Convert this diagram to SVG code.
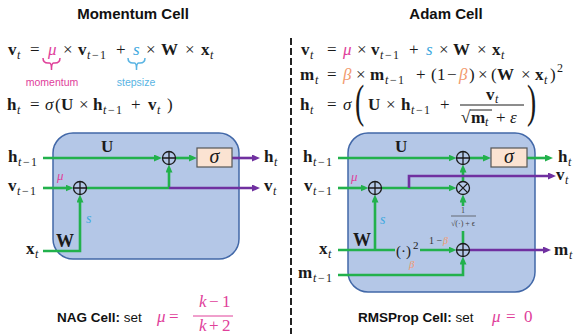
<svg xmlns="http://www.w3.org/2000/svg" width="586" height="334" viewBox="0 0 586 334">
<style>
.m{font-family:"Liberation Serif","DejaVu Serif",serif;font-size:17px;fill:#1a1a1a}
.b{font-weight:bold}
.i{font-style:italic}
.sb{font-size:12px;font-style:italic}
.sr{font-size:12px}
.pk{fill:#e0409a}
.bl{fill:#3fa9e0}
.or{fill:#f29a6e}
.ttl{font-family:"Liberation Sans",Arial,sans-serif;font-weight:bold;font-size:15px;fill:#111;text-anchor:middle}
.cap{font-family:"Liberation Sans",Arial,sans-serif;font-size:13.5px;fill:#111}
.note{font-family:"Liberation Sans",Arial,sans-serif;font-size:10.5px;text-anchor:middle}
.cell{fill:#b4c7e7;stroke:#4268a8;stroke-width:1.5}
.sig{fill:#fbe3d2;stroke:#555;stroke-width:1.2}
.op{fill:none;stroke:#1a1a1a;stroke-width:1.3}
.g{fill:none;stroke:#22b14c;stroke-width:2.6}
.p{fill:none;stroke:#7030a0;stroke-width:2.6}
.ga{marker-end:url(#ag)}
.pa{marker-end:url(#ap)}
.sm{font-family:"Liberation Serif","DejaVu Serif",serif;font-size:8px;fill:#444;text-anchor:middle}
</style>
<defs>
<marker id="ag" viewBox="0 0 8 7" refX="4" refY="3.5" markerWidth="8" markerHeight="7" markerUnits="userSpaceOnUse" orient="auto"><path d="M0,0 L8,3.5 L0,7 z" fill="#22b14c"/></marker>
<marker id="ap" viewBox="0 0 8 7" refX="4" refY="3.5" markerWidth="8" markerHeight="7" markerUnits="userSpaceOnUse" orient="auto"><path d="M0,0 L8,3.5 L0,7 z" fill="#7030a0"/></marker>
</defs>
<rect width="586" height="334" fill="#fff"/>

<!-- titles -->
<text class="ttl" x="133" y="19">Momentum Cell</text>
<text class="ttl" x="446" y="19">Adam Cell</text>

<!-- divider -->
<line x1="291" y1="38" x2="291" y2="334" stroke="#222" stroke-width="2" stroke-dasharray="7 3"/>

<!-- left equations -->
<g id="eq-momentum">
<text class="m"><tspan x="8" y="55" class="b">v</tspan><tspan x="17" y="59" class="sb">t</tspan><tspan x="30" y="55">=</tspan><tspan x="48" y="55" class="i pk">μ</tspan><tspan x="63" y="55">×</tspan><tspan x="78" y="55" class="b">v</tspan><tspan x="87" y="59" class="sb">t</tspan><tspan x="92" y="59" class="sr">−</tspan><tspan x="100" y="59" class="sr">1</tspan><tspan x="116" y="55">+</tspan><tspan x="133" y="55" class="i bl">s</tspan><tspan x="146" y="55">×</tspan><tspan x="161" y="55" class="b">W</tspan><tspan x="185" y="55">×</tspan><tspan x="201" y="55" class="b">x</tspan><tspan x="210" y="59" class="sb">t</tspan></text>
<path d="M43,58 Q43,63 48,63 L49.5,63 Q51.5,63 51.5,70 Q51.5,63 53.5,63 L55,63 Q60,63 60,58" fill="none" stroke="#e0409a" stroke-width="1.5"/>
<path d="M128,58 Q128,63 133,63 L134.5,63 Q136.5,63 136.5,70 Q136.5,63 138.5,63 L140,63 Q145,63 145,58" fill="none" stroke="#59b4e3" stroke-width="1.5"/>
<text class="note" x="52" y="86" fill="#e0409a">momentum</text>
<text class="note" x="136" y="86" fill="#59b4e3">stepsize</text>
<text class="m"><tspan x="7" y="110" class="b">h</tspan><tspan x="17" y="114" class="sb">t</tspan><tspan x="30" y="110">=</tspan><tspan x="45" y="110" class="i">σ</tspan><tspan x="55" y="110">(</tspan><tspan x="61" y="110" class="b">U</tspan><tspan x="79" y="110">×</tspan><tspan x="93" y="110" class="b">h</tspan><tspan x="103" y="114" class="sb">t</tspan><tspan x="108" y="114" class="sr">−</tspan><tspan x="116" y="114" class="sr">1</tspan><tspan x="131" y="110">+</tspan><tspan x="148" y="110" class="b">v</tspan><tspan x="157" y="114" class="sb">t</tspan><tspan x="167" y="110">)</tspan></text>
</g>

<!-- right equations -->
<g id="eq-adam">
<text class="m"><tspan x="301" y="55" class="b">v</tspan><tspan x="310" y="59" class="sb">t</tspan><tspan x="327" y="55">=</tspan><tspan x="343" y="55" class="i pk">μ</tspan><tspan x="357" y="55">×</tspan><tspan x="371" y="55" class="b">v</tspan><tspan x="380" y="59" class="sb">t</tspan><tspan x="385" y="59" class="sr">−</tspan><tspan x="393" y="59" class="sr">1</tspan><tspan x="409" y="55">+</tspan><tspan x="426" y="55" class="i bl">s</tspan><tspan x="439" y="55">×</tspan><tspan x="453" y="55" class="b">W</tspan><tspan x="477" y="55">×</tspan><tspan x="492" y="55" class="b">x</tspan><tspan x="501" y="59" class="sb">t</tspan></text>
<text class="m"><tspan x="300" y="80" class="b">m</tspan><tspan x="315" y="84" class="sb">t</tspan><tspan x="327" y="80">=</tspan><tspan x="343" y="80" class="i or">β</tspan><tspan x="356" y="80">×</tspan><tspan x="370" y="80" class="b">m</tspan><tspan x="385" y="84" class="sb">t</tspan><tspan x="390" y="84" class="sr">−</tspan><tspan x="398" y="84" class="sr">1</tspan><tspan x="416" y="80">+</tspan><tspan x="431" y="80">(</tspan><tspan x="437" y="80">1</tspan><tspan x="447" y="80">−</tspan><tspan x="459" y="80" class="i or">β</tspan><tspan x="469" y="80">)</tspan><tspan x="478" y="80">×</tspan><tspan x="491" y="80">(</tspan><tspan x="497" y="80" class="b">W</tspan><tspan x="521" y="80">×</tspan><tspan x="535" y="80" class="b">x</tspan><tspan x="544" y="84" class="sb">t</tspan><tspan x="550" y="80">)</tspan><tspan x="557" y="72" class="sr">2</tspan></text>
<text class="m"><tspan x="300" y="110" class="b">h</tspan><tspan x="310" y="114" class="sb">t</tspan><tspan x="327" y="110">=</tspan><tspan x="343" y="110" class="i">σ</tspan><tspan x="368" y="110" class="b">U</tspan><tspan x="386" y="110">×</tspan><tspan x="401" y="110" class="b">h</tspan><tspan x="411" y="114" class="sb">t</tspan><tspan x="416" y="114" class="sr">−</tspan><tspan x="424" y="114" class="sr">1</tspan><tspan x="440" y="110">+</tspan><tspan x="486" y="100" class="b">v</tspan><tspan x="495" y="103" class="sb">t</tspan><tspan x="461" y="123">√</tspan><tspan x="471" y="123" class="b">m</tspan><tspan x="485" y="126" class="sb">t</tspan><tspan x="496" y="123">+</tspan><tspan x="510" y="123" class="i">ε</tspan></text>
<text class="m" transform="translate(355,117) scale(0.6,1)" style="font-size:46px">(</text>
<text class="m" transform="translate(527,117) scale(0.6,1)" style="font-size:46px">)</text>
<line x1="460" y1="105" x2="524" y2="105" stroke="#1a1a1a" stroke-width="1"/>
<line x1="470" y1="110" x2="492" y2="110" stroke="#1a1a1a" stroke-width="1"/>
</g>

<!-- cell backgrounds -->
<g id="cell-momentum"><rect class="cell" x="53" y="133" width="186" height="126" rx="20"/></g>
<g id="cell-adam"><rect class="cell" x="348" y="133" width="187" height="159" rx="20"/></g>

<!-- connectors -->
<g id="connectors">
<path class="g ga" d="M43,158 H158"/>
<path class="g ga" d="M175.5,158 H193"/>
<path class="g ga" d="M43,188 H69.5"/>
<path class="g" d="M86.5,188 H169"/>
<path class="g ga" d="M169,188 V168.5"/>
<path class="g ga" d="M43,251 H80 V198.5"/>
<path class="p pa" d="M232,158 H256"/>
<path class="p pa" d="M169,188 H256"/>

<path class="g ga" d="M338,158 H452.5"/>
<path class="g ga" d="M469.5,158 H487"/>
<path class="g ga" d="M527,158 H549"/>
<path class="g ga" d="M338,188 H364.5"/>
<path class="g ga" d="M381.5,188 H452.5"/>
<path class="g ga" d="M463,181.5 V168.5"/>
<path class="g ga" d="M463,206 V198.5"/>
<path class="g" d="M463,231 V243.5"/>
<path class="g" d="M338,250 H395"/>
<path class="g ga" d="M375,250 V198.5"/>
<path class="g ga" d="M420,250 H452.5"/>
<path class="g ga" d="M338,275 H463 V260.5"/>
<path class="p pa" d="M409,188 V176 H552"/>
<path class="p pa" d="M469.5,250 H547"/>
</g>

<!-- momentum cell nodes -->
<g id="m-add-v"><circle class="op" cx="80" cy="188" r="6.5"/><path class="op" d="M73.5,188 H86.5 M80,181.5 V194.5"/></g>
<g id="m-add-h"><circle class="op" cx="169" cy="158" r="6.5"/><path class="op" d="M162.5,158 H175.5 M169,151.5 V164.5"/></g>
<g id="m-sigma"><rect class="sig" x="197" y="148" width="35" height="19"/><text class="m i" x="214.5" y="163" text-anchor="middle" style="font-size:20px">σ</text></g>
<g id="m-labels">
<text class="m"><tspan x="8" y="162" class="b">h</tspan><tspan x="18" y="166" class="sb">t</tspan><tspan x="23" y="166" class="sr">−</tspan><tspan x="31" y="166" class="sr">1</tspan></text>
<text class="m"><tspan x="8" y="191" class="b">v</tspan><tspan x="17" y="195" class="sb">t</tspan><tspan x="22" y="195" class="sr">−</tspan><tspan x="30" y="195" class="sr">1</tspan></text>
<text class="m"><tspan x="26" y="254" class="b">x</tspan><tspan x="35" y="258" class="sb">t</tspan></text>
<text class="m"><tspan x="264" y="162" class="b">h</tspan><tspan x="274" y="166" class="sb">t</tspan></text>
<text class="m"><tspan x="264" y="191" class="b">v</tspan><tspan x="273" y="195" class="sb">t</tspan></text>
<text class="m b" x="101" y="152">U</text>
<text class="m i pk" x="57" y="180" style="font-size:13px">μ</text>
<text class="m i bl" x="86" y="223" style="font-size:14px">s</text>
<text class="m b" x="56" y="247" style="font-size:18px">W</text>
</g>

<!-- adam cell nodes -->
<g id="a-add-v"><circle class="op" cx="375" cy="188" r="6.5"/><path class="op" d="M368.5,188 H381.5 M375,181.5 V194.5"/></g>
<g id="a-add-h"><circle class="op" cx="463" cy="158" r="6.5"/><path class="op" d="M456.5,158 H469.5 M463,151.5 V164.5"/></g>
<g id="a-mul"><circle class="op" cx="463" cy="188" r="6.5"/><path class="op" d="M458.4,183.4 L467.6,192.6 M467.6,183.4 L458.4,192.6"/></g>
<g id="a-add-m"><circle class="op" cx="463" cy="250" r="6.5"/><path class="op" d="M456.5,250 H469.5 M463,243.5 V256.5"/></g>
<g id="a-sigma"><rect class="sig" x="491" y="148" width="36" height="19"/><text class="m i" x="509" y="163" text-anchor="middle" style="font-size:20px">σ</text></g>
<g id="a-square"><text class="m" x="396" y="256" style="font-size:15px">(·)</text><text class="m" x="413" y="249" style="font-size:11px">2</text></g>
<g id="a-rsqrt"><text class="sm" x="463" y="213">1</text><line x1="451" y1="216" x2="476" y2="216" stroke="#444" stroke-width="0.7"/><text class="sm" x="463" y="226">√(·) + ϵ</text></g>
<g id="a-labels">
<text class="m"><tspan x="303" y="162" class="b">h</tspan><tspan x="313" y="166" class="sb">t</tspan><tspan x="318" y="166" class="sr">−</tspan><tspan x="326" y="166" class="sr">1</tspan></text>
<text class="m"><tspan x="304" y="191" class="b">v</tspan><tspan x="313" y="195" class="sb">t</tspan><tspan x="318" y="195" class="sr">−</tspan><tspan x="326" y="195" class="sr">1</tspan></text>
<text class="m"><tspan x="319" y="254" class="b">x</tspan><tspan x="328" y="258" class="sb">t</tspan></text>
<text class="m"><tspan x="298" y="278" class="b">m</tspan><tspan x="313" y="282" class="sb">t</tspan><tspan x="318" y="282" class="sr">−</tspan><tspan x="326" y="282" class="sr">1</tspan></text>
<text class="m"><tspan x="558" y="162" class="b">h</tspan><tspan x="568" y="166" class="sb">t</tspan></text>
<text class="m"><tspan x="556" y="180" class="b">v</tspan><tspan x="565" y="184" class="sb">t</tspan></text>
<text class="m"><tspan x="554" y="255" class="b">m</tspan><tspan x="569" y="259" class="sb">t</tspan></text>
<text class="m b" x="395" y="152">U</text>
<text class="m i pk" x="351" y="181" style="font-size:13px">μ</text>
<text class="m i bl" x="380" y="224" style="font-size:14px">s</text>
<text class="m b" x="353" y="246" style="font-size:18px">W</text>
<text class="m" x="429" y="244" style="font-size:10px;fill:#333">1 −</text>
<text class="m i or" x="443" y="244" style="font-size:10px">β</text>
<text class="m i or" x="409" y="268" style="font-size:11px">β</text>
</g>

<!-- captions -->
<g id="caption-nag">
<text class="cap" x="57" y="322"><tspan font-weight="bold">NAG Cell:</tspan> set</text>
<text class="m pk"><tspan x="157" y="322" class="i">μ</tspan><tspan x="169" y="322">=</tspan><tspan x="199" y="307" class="i">k</tspan><tspan x="209" y="307">−</tspan><tspan x="222" y="307">1</tspan><tspan x="199" y="331" class="i">k</tspan><tspan x="209" y="331">+</tspan><tspan x="222" y="331">2</tspan></text>
<line x1="193" y1="316" x2="233" y2="316" stroke="#e0409a" stroke-width="1"/>
</g>
<g id="caption-rmsprop">
<text class="cap" x="358" y="322"><tspan font-weight="bold">RMSProp Cell:</tspan> set</text>
<text class="m pk"><tspan x="492" y="322" class="i">μ</tspan><tspan x="506" y="322">=</tspan><tspan x="524" y="322">0</tspan></text>
</g>
</svg>
